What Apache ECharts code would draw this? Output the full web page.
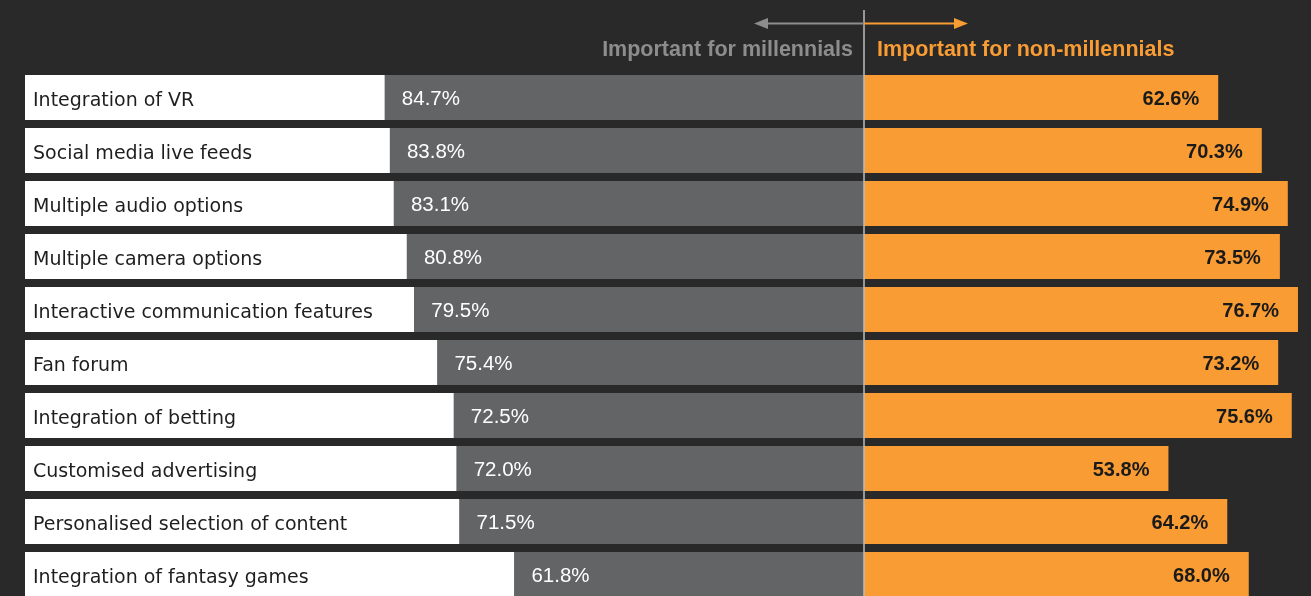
<!DOCTYPE html>
<html><head><meta charset="utf-8">
<script src="https://cdn.jsdelivr.net/npm/echarts@6/dist/echarts.min.js"></script>
<style>html,body{margin:0;padding:0;background:#292929;}#c{width:1311px;height:596px;}</style>
</head><body><div id="c"></div>
<script>
const categories = ["Integration of VR","Social media live feeds","Multiple audio options","Multiple camera options","Interactive communication features","Fan forum","Integration of betting","Customised advertising","Personalised selection of content","Integration of fantasy games"];
const millennials = [84.7,83.8,83.1,80.8,79.5,75.4,72.5,72.0,71.5,61.8];
const nonMillennials = [62.6,70.3,74.9,73.5,76.7,73.2,75.6,53.8,64.2,68.0];
const leftTitle = "Important for millennials";
const rightTitle = "Important for non-millennials";
const LEFT_EXTENT = 148.3;
const RIGHT_EXTENT = 79;

const FONT = "'Liberation Sans', Arial, Helvetica, sans-serif";
const CAT_FONT = "'DejaVu Sans', 'Liberation Sans', sans-serif";
const chart = echarts.init(document.getElementById('c'));
const CX = 864;
chart.setOption({
  backgroundColor: '#292929',
  animation: false,
  grid: {left: 25, right: 0, top: 71, height: 530, containLabel: false, outerBoundsMode: 'none'},
  xAxis: {type: 'value', min: -LEFT_EXTENT, max: RIGHT_EXTENT, show: false},
  yAxis: {type: 'category', data: categories, inverse: true,
    axisLine: {show: false, onZero: false}, axisTick: {show: false}, splitLine: {show: false},
    axisLabel: {inside: true, margin: 8, color: '#1e1e1e', fontSize: 19, fontFamily: CAT_FONT,
      formatter: v => '{a|' + v + '}',
      rich: {a: {color: '#1e1e1e', fontSize: 19, fontFamily: CAT_FONT, padding: [8, 0, 0, 0]}}}, z: 10},
  series: [
    {type: 'bar', stack: 'all', barCategoryGap: '15%', data: millennials.map(v => -v),
      itemStyle: {color: '#636466'},
      label: {show: true, position: 'insideLeft', distance: 17, offset: [0, 2], color: '#ffffff', fontSize: 20.5, fontFamily: FONT,
        formatter: p => millennials[p.dataIndex].toFixed(1) + '%'}},
    {type: 'bar', stack: 'all', data: millennials.map(v => -(LEFT_EXTENT - v)),
      itemStyle: {color: '#ffffff'}, z: 1},
    {type: 'bar', stack: 'all', data: nonMillennials,
      itemStyle: {color: '#f89c33'},
      label: {show: true, position: 'insideRight', distance: 19, offset: [0, 2], color: '#1a1a1a', fontSize: 20, fontWeight: 'bold', fontFamily: FONT,
        formatter: p => nonMillennials[p.dataIndex].toFixed(1) + '%'}}
  ],
  graphic: [
    {type: 'line', shape: {x1: CX, y1: 10, x2: CX, y2: 596}, style: {stroke: '#bdbdbd', lineWidth: 1.5}, z: 100},
    {type: 'line', shape: {x1: CX, y1: 23.5, x2: 762, y2: 23.5}, style: {stroke: '#8d8d8d', lineWidth: 2}, z: 100},
    {type: 'polygon', shape: {points: [[754, 23.5], [768, 18], [768, 29]]}, style: {fill: '#8d8d8d'}, z: 100},
    {type: 'line', shape: {x1: CX, y1: 23.5, x2: 960, y2: 23.5}, style: {stroke: '#f89c33', lineWidth: 2}, z: 100},
    {type: 'polygon', shape: {points: [[968, 23.5], [954, 18], [954, 29]]}, style: {fill: '#f89c33'}, z: 100},
    {type: 'text', x: 853, y: 50, style: {text: leftTitle, fill: '#8d8d8d', font: 'bold 21.5px ' + FONT, align: 'right', verticalAlign: 'middle'}, z: 100},
    {type: 'text', x: 877, y: 50, style: {text: rightTitle, fill: '#f89c33', font: 'bold 21.5px ' + FONT, align: 'left', verticalAlign: 'middle'}, z: 100}
  ]
});
</script></body></html>
